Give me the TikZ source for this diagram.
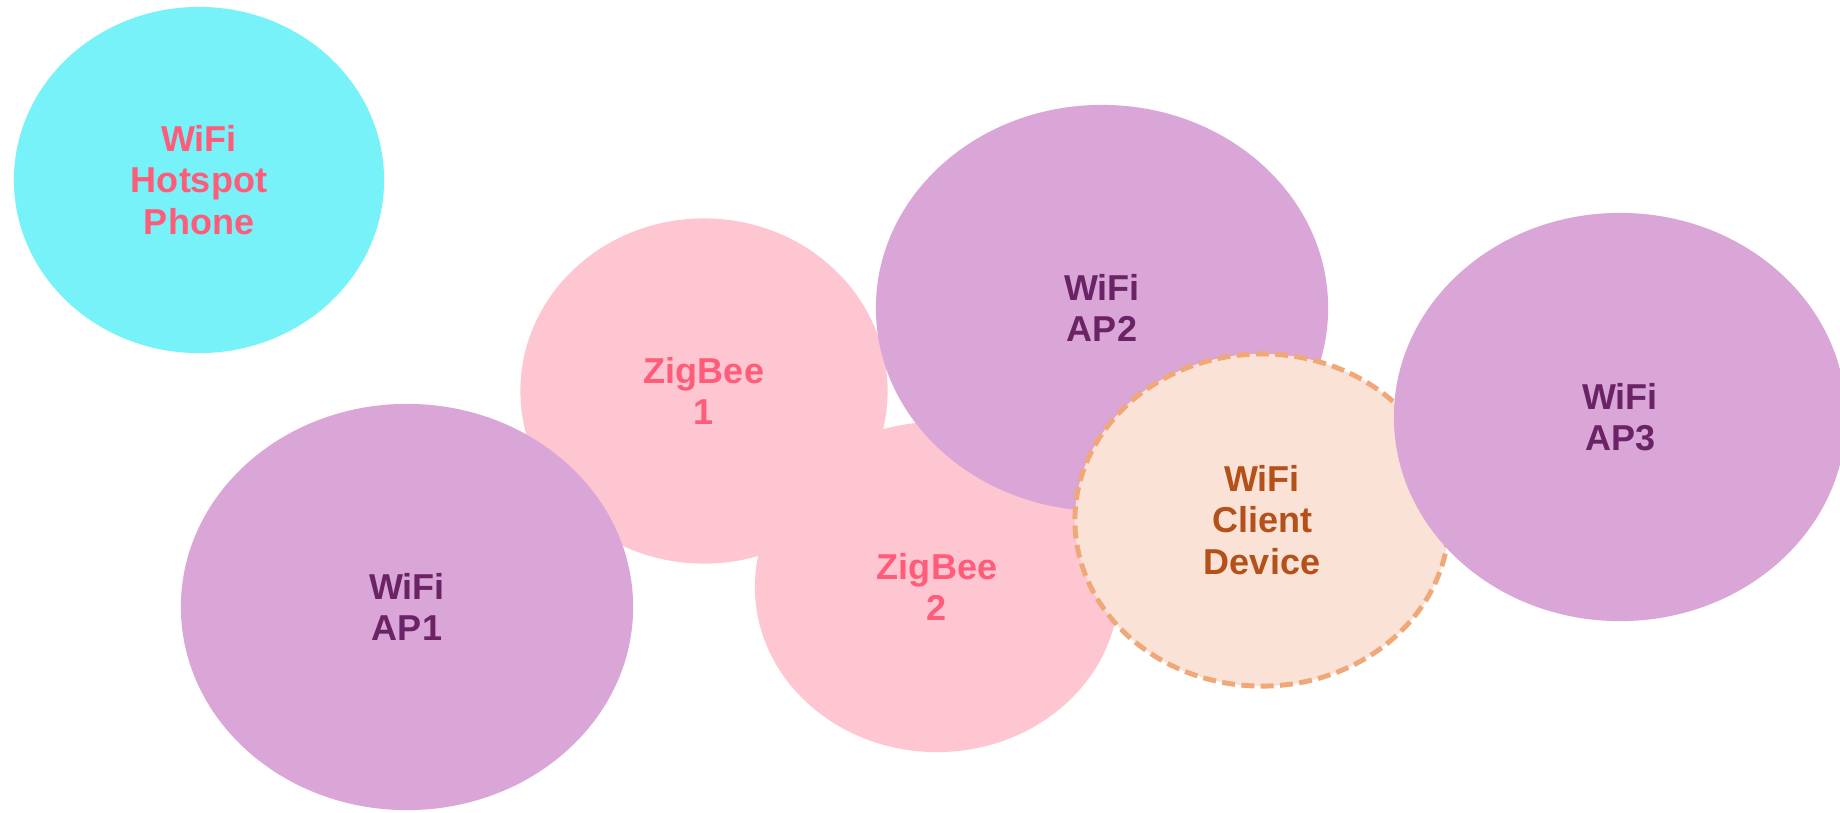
\documentclass[tikz,border=0pt]{standalone}
\usepackage{fontspec}
\setmainfont{Liberation Sans}
\usepackage{tikz}
\usetikzlibrary{shapes.geometric}

\definecolor{apfill}{HTML}{DAA5D7}
\definecolor{aptext}{HTML}{6A2466}
\definecolor{zbfill}{HTML}{FEC6D1}
\definecolor{zbtext}{HTML}{FF5C7A}
\definecolor{hsfill}{HTML}{76F2F8}
\definecolor{clfill}{HTML}{FAE2D6}
\definecolor{cldash}{HTML}{F0A878}
\definecolor{cltext}{HTML}{B4501A}

\tikzset{
	area/.style={ellipse, inner sep=0pt, align=center,
		font=\bfseries\fontsize{10.24}{11.85}\selectfont},
	ap/.style={area, fill=apfill, text=aptext, minimum width=4.52cm, minimum height=4.06cm},
	zb/.style={area, fill=zbfill, text=zbtext},
	hotspot/.style={area, fill=hsfill, text=zbtext, minimum width=3.70cm, minimum height=3.46cm},
	client/.style={area, fill=clfill, text=cltext, draw=cldash, line width=1.4pt,
		dash pattern=on 3.7pt off 1.8pt, minimum width=3.74cm, minimum height=3.32cm}
}

\begin{document}
\begin{tikzpicture}[x=0.01cm, y=-0.01cm]
		\clip (0,0) rectangle (1840,812);
		\fill[white] (0,0) rectangle (1840,812);
		
		\node[zb, minimum width=3.67cm, minimum height=3.45cm] (zb1) at (704,391) {ZigBee\\1};
		\node[zb, minimum width=3.64cm, minimum height=3.30cm] (zb2) at (937,587) {ZigBee\\2};
		
		\node[ap] (ap1) at (407,607) {WiFi\\AP1};
		\node[ap] (ap2) at (1102,308) {WiFi\\AP2};
		
		\node[client] (dev) at (1262,520) {WiFi\\Client\\Device};
		
		\node[ap, minimum height=4.08cm] (ap3) at (1620,417) {WiFi\\AP3};
		
		\node[hotspot] (phone) at (199,180) {WiFi\\Hotspot\\Phone};
		\end{tikzpicture}
\end{document}
